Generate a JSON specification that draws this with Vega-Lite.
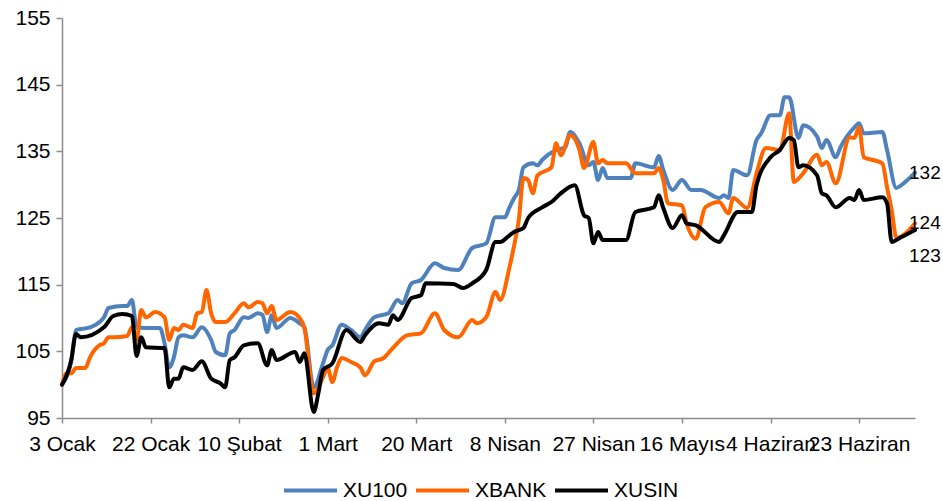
{
  "$schema": "https://vega.github.io/schema/vega-lite/v6.json",
  "width": 853,
  "height": 400,
  "autosize": {"type": "none"},
  "padding": {"left": 62, "top": 18, "right": 28, "bottom": 83},
  "background": "white",
  "config": {
    "view": {"stroke": null},
    "font": "Liberation Sans",
    "axis": {"labelFont": "Liberation Sans", "labelColor": "#000000", "domainColor": "#8c8c8c", "tickColor": "#8c8c8c", "domainWidth": 1.5, "tickWidth": 1.5, "grid": false}
  },
  "datasets": {
    "series": [
      {"d":"2011-01-03","s":"XU100","v":100},{"d":"2011-01-05","s":"XU100","v":103.7},{"d":"2011-01-06","s":"XU100","v":108.2},{"d":"2011-01-09","s":"XU100","v":108.6},{"d":"2011-01-12","s":"XU100","v":110.1},{"d":"2011-01-13","s":"XU100","v":111.5},{"d":"2011-01-16","s":"XU100","v":111.8},{"d":"2011-01-17","s":"XU100","v":111.8},{"d":"2011-01-18","s":"XU100","v":112.7},{"d":"2011-01-19","s":"XU100","v":108.6},{"d":"2011-01-21","s":"XU100","v":108.5},{"d":"2011-01-24","s":"XU100","v":108.5},{"d":"2011-01-25","s":"XU100","v":106.2},{"d":"2011-01-26","s":"XU100","v":102.6},{"d":"2011-01-27","s":"XU100","v":104.1},{"d":"2011-01-28","s":"XU100","v":107.1},{"d":"2011-01-29","s":"XU100","v":107.4},{"d":"2011-01-31","s":"XU100","v":107.1},{"d":"2011-02-02","s":"XU100","v":108.6},{"d":"2011-02-04","s":"XU100","v":106.7},{"d":"2011-02-05","s":"XU100","v":104.9},{"d":"2011-02-07","s":"XU100","v":104.4},{"d":"2011-02-08","s":"XU100","v":107.7},{"d":"2011-02-09","s":"XU100","v":108.2},{"d":"2011-02-11","s":"XU100","v":110.1},{"d":"2011-02-12","s":"XU100","v":110.0},{"d":"2011-02-14","s":"XU100","v":110.7},{"d":"2011-02-15","s":"XU100","v":110.5},{"d":"2011-02-16","s":"XU100","v":107.9},{"d":"2011-02-17","s":"XU100","v":110.4},{"d":"2011-02-18","s":"XU100","v":108.5},{"d":"2011-02-21","s":"XU100","v":110.0},{"d":"2011-02-23","s":"XU100","v":109.2},{"d":"2011-02-24","s":"XU100","v":108.6},{"d":"2011-02-26","s":"XU100","v":99.6},{"d":"2011-02-28","s":"XU100","v":103.2},{"d":"2011-03-01","s":"XU100","v":105.2},{"d":"2011-03-02","s":"XU100","v":105.9},{"d":"2011-03-04","s":"XU100","v":109.0},{"d":"2011-03-06","s":"XU100","v":108.2},{"d":"2011-03-08","s":"XU100","v":107.1},{"d":"2011-03-09","s":"XU100","v":108.2},{"d":"2011-03-11","s":"XU100","v":110.1},{"d":"2011-03-14","s":"XU100","v":110.7},{"d":"2011-03-16","s":"XU100","v":112.7},{"d":"2011-03-17","s":"XU100","v":112.2},{"d":"2011-03-19","s":"XU100","v":115.2},{"d":"2011-03-21","s":"XU100","v":115.7},{"d":"2011-03-24","s":"XU100","v":118.2},{"d":"2011-03-26","s":"XU100","v":117.5},{"d":"2011-03-29","s":"XU100","v":117.2},{"d":"2011-04-01","s":"XU100","v":120.5},{"d":"2011-04-04","s":"XU100","v":121.2},{"d":"2011-04-06","s":"XU100","v":125.1},{"d":"2011-04-08","s":"XU100","v":125.1},{"d":"2011-04-09","s":"XU100","v":126.6},{"d":"2011-04-10","s":"XU100","v":128.0},{"d":"2011-04-11","s":"XU100","v":129.2},{"d":"2011-04-12","s":"XU100","v":132.6},{"d":"2011-04-14","s":"XU100","v":133.2},{"d":"2011-04-15","s":"XU100","v":132.9},{"d":"2011-04-16","s":"XU100","v":133.7},{"d":"2011-04-19","s":"XU100","v":135.2},{"d":"2011-04-21","s":"XU100","v":135.6},{"d":"2011-04-22","s":"XU100","v":137.9},{"d":"2011-04-24","s":"XU100","v":136.2},{"d":"2011-04-26","s":"XU100","v":132.9},{"d":"2011-04-27","s":"XU100","v":133.4},{"d":"2011-04-28","s":"XU100","v":130.7},{"d":"2011-04-29","s":"XU100","v":132.5},{"d":"2011-04-30","s":"XU100","v":131.0},{"d":"2011-05-05","s":"XU100","v":131.0},{"d":"2011-05-06","s":"XU100","v":133.2},{"d":"2011-05-10","s":"XU100","v":132.6},{"d":"2011-05-11","s":"XU100","v":134.3},{"d":"2011-05-12","s":"XU100","v":132.2},{"d":"2011-05-14","s":"XU100","v":129.2},{"d":"2011-05-16","s":"XU100","v":130.7},{"d":"2011-05-18","s":"XU100","v":129.2},{"d":"2011-05-20","s":"XU100","v":129.2},{"d":"2011-05-24","s":"XU100","v":128.0},{"d":"2011-05-25","s":"XU100","v":128.4},{"d":"2011-05-26","s":"XU100","v":128.0},{"d":"2011-05-27","s":"XU100","v":132.2},{"d":"2011-05-30","s":"XU100","v":131.4},{"d":"2011-06-01","s":"XU100","v":136.7},{"d":"2011-06-02","s":"XU100","v":137.7},{"d":"2011-06-04","s":"XU100","v":140.4},{"d":"2011-06-06","s":"XU100","v":140.4},{"d":"2011-06-07","s":"XU100","v":143.1},{"d":"2011-06-08","s":"XU100","v":143.1},{"d":"2011-06-10","s":"XU100","v":137.0},{"d":"2011-06-11","s":"XU100","v":138.9},{"d":"2011-06-14","s":"XU100","v":137.2},{"d":"2011-06-15","s":"XU100","v":135.5},{"d":"2011-06-16","s":"XU100","v":136.7},{"d":"2011-06-18","s":"XU100","v":134.1},{"d":"2011-06-19","s":"XU100","v":135.6},{"d":"2011-06-22","s":"XU100","v":138.6},{"d":"2011-06-23","s":"XU100","v":139.2},{"d":"2011-06-24","s":"XU100","v":137.7},{"d":"2011-06-28","s":"XU100","v":137.9},{"d":"2011-06-29","s":"XU100","v":135.2},{"d":"2011-07-01","s":"XU100","v":129.5},{"d":"2011-07-02","s":"XU100","v":129.9},{"d":"2011-07-05","s":"XU100","v":131.8},
      {"d":"2011-01-03","s":"XBANK","v":100},{"d":"2011-01-04","s":"XBANK","v":101.7},{"d":"2011-01-05","s":"XBANK","v":101.7},{"d":"2011-01-06","s":"XBANK","v":102.5},{"d":"2011-01-08","s":"XBANK","v":102.5},{"d":"2011-01-09","s":"XBANK","v":104.1},{"d":"2011-01-11","s":"XBANK","v":105.9},{"d":"2011-01-12","s":"XBANK","v":106.2},{"d":"2011-01-13","s":"XBANK","v":107.1},{"d":"2011-01-14","s":"XBANK","v":107.1},{"d":"2011-01-17","s":"XBANK","v":107.3},{"d":"2011-01-18","s":"XBANK","v":108.6},{"d":"2011-01-19","s":"XBANK","v":106.7},{"d":"2011-01-20","s":"XBANK","v":111.2},{"d":"2011-01-21","s":"XBANK","v":110.1},{"d":"2011-01-23","s":"XBANK","v":110.9},{"d":"2011-01-25","s":"XBANK","v":110.1},{"d":"2011-01-26","s":"XBANK","v":106.7},{"d":"2011-01-27","s":"XBANK","v":108.5},{"d":"2011-01-28","s":"XBANK","v":108.2},{"d":"2011-01-29","s":"XBANK","v":109.0},{"d":"2011-01-31","s":"XBANK","v":108.5},{"d":"2011-02-01","s":"XBANK","v":110.7},{"d":"2011-02-02","s":"XBANK","v":110.9},{"d":"2011-02-03","s":"XBANK","v":114.2},{"d":"2011-02-04","s":"XBANK","v":110.7},{"d":"2011-02-05","s":"XBANK","v":109.4},{"d":"2011-02-07","s":"XBANK","v":109.4},{"d":"2011-02-09","s":"XBANK","v":110.7},{"d":"2011-02-11","s":"XBANK","v":112.2},{"d":"2011-02-12","s":"XBANK","v":111.6},{"d":"2011-02-14","s":"XBANK","v":112.4},{"d":"2011-02-15","s":"XBANK","v":112.2},{"d":"2011-02-16","s":"XBANK","v":110.7},{"d":"2011-02-17","s":"XBANK","v":111.8},{"d":"2011-02-18","s":"XBANK","v":109.7},{"d":"2011-02-21","s":"XBANK","v":110.9},{"d":"2011-02-23","s":"XBANK","v":110.0},{"d":"2011-02-24","s":"XBANK","v":108.5},{"d":"2011-02-26","s":"XBANK","v":98.7},{"d":"2011-02-28","s":"XBANK","v":101.1},{"d":"2011-03-01","s":"XBANK","v":102.5},{"d":"2011-03-02","s":"XBANK","v":100.4},{"d":"2011-03-03","s":"XBANK","v":102.6},{"d":"2011-03-04","s":"XBANK","v":104.0},{"d":"2011-03-06","s":"XBANK","v":103.4},{"d":"2011-03-08","s":"XBANK","v":102.6},{"d":"2011-03-09","s":"XBANK","v":101.4},{"d":"2011-03-11","s":"XBANK","v":103.5},{"d":"2011-03-13","s":"XBANK","v":104.0},{"d":"2011-03-15","s":"XBANK","v":105.5},{"d":"2011-03-18","s":"XBANK","v":107.4},{"d":"2011-03-21","s":"XBANK","v":107.7},{"d":"2011-03-24","s":"XBANK","v":110.7},{"d":"2011-03-26","s":"XBANK","v":108.2},{"d":"2011-03-29","s":"XBANK","v":107.1},{"d":"2011-04-01","s":"XBANK","v":109.7},{"d":"2011-04-02","s":"XBANK","v":109.2},{"d":"2011-04-04","s":"XBANK","v":110.1},{"d":"2011-04-06","s":"XBANK","v":113.9},{"d":"2011-04-07","s":"XBANK","v":112.7},{"d":"2011-04-09","s":"XBANK","v":117.6},{"d":"2011-04-10","s":"XBANK","v":120.9},{"d":"2011-04-11","s":"XBANK","v":124.7},{"d":"2011-04-12","s":"XBANK","v":131.0},{"d":"2011-04-13","s":"XBANK","v":130.7},{"d":"2011-04-14","s":"XBANK","v":128.7},{"d":"2011-04-15","s":"XBANK","v":131.4},{"d":"2011-04-18","s":"XBANK","v":132.6},{"d":"2011-04-19","s":"XBANK","v":136.2},{"d":"2011-04-20","s":"XBANK","v":134.4},{"d":"2011-04-22","s":"XBANK","v":137.4},{"d":"2011-04-24","s":"XBANK","v":135.2},{"d":"2011-04-25","s":"XBANK","v":132.5},{"d":"2011-04-27","s":"XBANK","v":136.4},{"d":"2011-04-28","s":"XBANK","v":133.2},{"d":"2011-04-29","s":"XBANK","v":133.7},{"d":"2011-04-30","s":"XBANK","v":133.2},{"d":"2011-05-04","s":"XBANK","v":133.2},{"d":"2011-05-06","s":"XBANK","v":131.7},{"d":"2011-05-10","s":"XBANK","v":131.7},{"d":"2011-05-11","s":"XBANK","v":132.5},{"d":"2011-05-12","s":"XBANK","v":130.7},{"d":"2011-05-13","s":"XBANK","v":127.2},{"d":"2011-05-16","s":"XBANK","v":126.9},{"d":"2011-05-17","s":"XBANK","v":124.2},{"d":"2011-05-19","s":"XBANK","v":121.9},{"d":"2011-05-21","s":"XBANK","v":126.6},{"d":"2011-05-24","s":"XBANK","v":127.4},{"d":"2011-05-26","s":"XBANK","v":125.7},{"d":"2011-05-27","s":"XBANK","v":128.0},{"d":"2011-05-30","s":"XBANK","v":126.5},{"d":"2011-06-01","s":"XBANK","v":131.7},{"d":"2011-06-03","s":"XBANK","v":135.5},{"d":"2011-06-06","s":"XBANK","v":135.2},{"d":"2011-06-08","s":"XBANK","v":140.7},{"d":"2011-06-09","s":"XBANK","v":130.4},{"d":"2011-06-11","s":"XBANK","v":131.7},{"d":"2011-06-14","s":"XBANK","v":134.5},{"d":"2011-06-15","s":"XBANK","v":132.9},{"d":"2011-06-16","s":"XBANK","v":133.4},{"d":"2011-06-18","s":"XBANK","v":130.2},{"d":"2011-06-21","s":"XBANK","v":137.1},{"d":"2011-06-22","s":"XBANK","v":137.0},{"d":"2011-06-23","s":"XBANK","v":138.6},{"d":"2011-06-24","s":"XBANK","v":134.1},{"d":"2011-06-26","s":"XBANK","v":133.7},{"d":"2011-06-28","s":"XBANK","v":133.2},{"d":"2011-06-29","s":"XBANK","v":129.6},{"d":"2011-06-30","s":"XBANK","v":126.2},{"d":"2011-07-01","s":"XBANK","v":122.0},{"d":"2011-07-03","s":"XBANK","v":122.7},{"d":"2011-07-05","s":"XBANK","v":124.2},
      {"d":"2011-01-03","s":"XUSIN","v":100},{"d":"2011-01-05","s":"XUSIN","v":103.7},{"d":"2011-01-06","s":"XUSIN","v":107.6},{"d":"2011-01-07","s":"XUSIN","v":107.1},{"d":"2011-01-12","s":"XUSIN","v":108.6},{"d":"2011-01-14","s":"XUSIN","v":110.3},{"d":"2011-01-16","s":"XUSIN","v":110.6},{"d":"2011-01-18","s":"XUSIN","v":110.3},{"d":"2011-01-19","s":"XUSIN","v":104.3},{"d":"2011-01-20","s":"XUSIN","v":107.1},{"d":"2011-01-21","s":"XUSIN","v":105.6},{"d":"2011-01-25","s":"XUSIN","v":105.5},{"d":"2011-01-26","s":"XUSIN","v":99.6},{"d":"2011-01-27","s":"XUSIN","v":100.9},{"d":"2011-01-28","s":"XUSIN","v":100.9},{"d":"2011-01-29","s":"XUSIN","v":102.6},{"d":"2011-01-31","s":"XUSIN","v":102.2},{"d":"2011-02-02","s":"XUSIN","v":103.5},{"d":"2011-02-04","s":"XUSIN","v":100.9},{"d":"2011-02-06","s":"XUSIN","v":100.2},{"d":"2011-02-07","s":"XUSIN","v":99.6},{"d":"2011-02-08","s":"XUSIN","v":103.7},{"d":"2011-02-09","s":"XUSIN","v":104.1},{"d":"2011-02-11","s":"XUSIN","v":105.9},{"d":"2011-02-14","s":"XUSIN","v":106.2},{"d":"2011-02-16","s":"XUSIN","v":102.9},{"d":"2011-02-17","s":"XUSIN","v":105.2},{"d":"2011-02-18","s":"XUSIN","v":103.7},{"d":"2011-02-22","s":"XUSIN","v":104.9},{"d":"2011-02-23","s":"XUSIN","v":103.4},{"d":"2011-02-24","s":"XUSIN","v":104.7},{"d":"2011-02-26","s":"XUSIN","v":95.9},{"d":"2011-02-27","s":"XUSIN","v":98.7},{"d":"2011-02-28","s":"XUSIN","v":102.2},{"d":"2011-03-02","s":"XUSIN","v":103.2},{"d":"2011-03-05","s":"XUSIN","v":108.2},{"d":"2011-03-08","s":"XUSIN","v":106.4},{"d":"2011-03-09","s":"XUSIN","v":107.4},{"d":"2011-03-12","s":"XUSIN","v":109.2},{"d":"2011-03-14","s":"XUSIN","v":109.0},{"d":"2011-03-15","s":"XUSIN","v":110.4},{"d":"2011-03-16","s":"XUSIN","v":109.7},{"d":"2011-03-19","s":"XUSIN","v":113.0},{"d":"2011-03-21","s":"XUSIN","v":113.4},{"d":"2011-03-22","s":"XUSIN","v":115.2},{"d":"2011-03-28","s":"XUSIN","v":115.1},{"d":"2011-03-30","s":"XUSIN","v":114.5},{"d":"2011-04-01","s":"XUSIN","v":115.2},{"d":"2011-04-04","s":"XUSIN","v":117.2},{"d":"2011-04-06","s":"XUSIN","v":121.4},{"d":"2011-04-07","s":"XUSIN","v":121.4},{"d":"2011-04-09","s":"XUSIN","v":122.4},{"d":"2011-04-10","s":"XUSIN","v":122.9},{"d":"2011-04-12","s":"XUSIN","v":123.5},{"d":"2011-04-13","s":"XUSIN","v":125.0},{"d":"2011-04-16","s":"XUSIN","v":126.6},{"d":"2011-04-18","s":"XUSIN","v":127.4},{"d":"2011-04-20","s":"XUSIN","v":128.7},{"d":"2011-04-23","s":"XUSIN","v":129.9},{"d":"2011-04-25","s":"XUSIN","v":125.4},{"d":"2011-04-26","s":"XUSIN","v":125.0},{"d":"2011-04-27","s":"XUSIN","v":121.2},{"d":"2011-04-28","s":"XUSIN","v":122.9},{"d":"2011-04-29","s":"XUSIN","v":121.7},{"d":"2011-05-04","s":"XUSIN","v":121.7},{"d":"2011-05-06","s":"XUSIN","v":125.9},{"d":"2011-05-10","s":"XUSIN","v":126.6},{"d":"2011-05-11","s":"XUSIN","v":128.4},{"d":"2011-05-12","s":"XUSIN","v":126.5},{"d":"2011-05-14","s":"XUSIN","v":123.5},{"d":"2011-05-16","s":"XUSIN","v":125.4},{"d":"2011-05-17","s":"XUSIN","v":124.2},{"d":"2011-05-19","s":"XUSIN","v":123.9},{"d":"2011-05-24","s":"XUSIN","v":121.4},{"d":"2011-05-25","s":"XUSIN","v":122.4},{"d":"2011-05-28","s":"XUSIN","v":125.9},{"d":"2011-05-31","s":"XUSIN","v":125.9},{"d":"2011-06-01","s":"XUSIN","v":129.9},{"d":"2011-06-04","s":"XUSIN","v":134.1},{"d":"2011-06-06","s":"XUSIN","v":135.2},{"d":"2011-06-08","s":"XUSIN","v":137.0},{"d":"2011-06-09","s":"XUSIN","v":136.7},{"d":"2011-06-10","s":"XUSIN","v":132.6},{"d":"2011-06-11","s":"XUSIN","v":132.9},{"d":"2011-06-14","s":"XUSIN","v":131.4},{"d":"2011-06-15","s":"XUSIN","v":128.7},{"d":"2011-06-16","s":"XUSIN","v":128.4},{"d":"2011-06-18","s":"XUSIN","v":126.6},{"d":"2011-06-21","s":"XUSIN","v":128.0},{"d":"2011-06-22","s":"XUSIN","v":127.7},{"d":"2011-06-23","s":"XUSIN","v":129.2},{"d":"2011-06-24","s":"XUSIN","v":127.7},{"d":"2011-06-28","s":"XUSIN","v":128.1},{"d":"2011-06-29","s":"XUSIN","v":127.2},{"d":"2011-06-30","s":"XUSIN","v":121.4},{"d":"2011-07-02","s":"XUSIN","v":122.1},{"d":"2011-07-05","s":"XUSIN","v":123.2}
    ]
  },
  "data": {"name": "series"},
  "encoding": {
    "x": {
      "field": "d", "type": "temporal",
      "scale": {"type": "utc", "domain": [{"year": 2011, "month": 1, "date": 3, "utc": true}, {"year": 2011, "month": 7, "date": 5, "utc": true}]},
      "axis": {
        "title": null,
        "values": [
          {"year": 2011, "month": 1, "date": 3, "utc": true},
          {"year": 2011, "month": 1, "date": 22, "utc": true},
          {"year": 2011, "month": 2, "date": 10, "utc": true},
          {"year": 2011, "month": 3, "date": 1, "utc": true},
          {"year": 2011, "month": 3, "date": 20, "utc": true},
          {"year": 2011, "month": 4, "date": 8, "utc": true},
          {"year": 2011, "month": 4, "date": 27, "utc": true},
          {"year": 2011, "month": 5, "date": 16, "utc": true},
          {"year": 2011, "month": 6, "date": 4, "utc": true},
          {"year": 2011, "month": 6, "date": 23, "utc": true}
        ],
        "labelExpr": "utcdate(datum.value) + ' ' + ['Ocak','Şubat','Mart','Nisan','Mayıs','Haziran','Temmuz'][utcmonth(datum.value)]",
        "labelFontSize": 21,
        "labelOverlap": false,
        "labelBound": false,
        "labelFlush": false,
        "tickSize": 5,
        "labelPadding": 10
      }
    },
    "y": {
      "field": "v", "type": "quantitative",
      "scale": {"domain": [95, 155], "nice": false, "zero": false},
      "axis": {"title": null, "values": [95, 105, 115, 125, 135, 145, 155], "labelFontSize": 21, "tickSize": 6, "labelPadding": 6}
    }
  },
  "layer": [
    {
      "mark": {"type": "line", "strokeWidth": 4, "interpolate": "monotone", "strokeJoin": "round", "strokeCap": "round"},
      "encoding": {
        "color": {
          "field": "s", "type": "nominal",
          "scale": {"domain": ["XU100", "XBANK", "XUSIN"], "range": ["#4F81BD", "#FF6600", "#000000"]},
          "legend": {
            "title": null, "orient": "none", "direction": "horizontal",
            "legendX": 220, "legendY": 444, "gridAlign": "none",
            "symbolType": "stroke", "symbolSize": 2809, "symbolStrokeWidth": 4,
            "labelFontSize": 21, "labelFont": "Liberation Sans", "labelColor": "#000000",
            "labelOffset": 4, "columnPadding": 0
          }
        }
      }
    },
    {
      "transform": [{"filter": "utcmonth(datum.d) == 6 && utcdate(datum.d) == 5 && datum.s != 'XUSIN'"}],
      "mark": {"type": "text", "align": "left", "baseline": "middle", "dx": -6, "fontSize": 19, "font": "Liberation Sans", "color": "#000000"},
      "encoding": {"text": {"field": "v", "type": "quantitative", "format": ".0f"}}
    },
    {
      "transform": [{"filter": "utcmonth(datum.d) == 6 && utcdate(datum.d) == 5 && datum.s == 'XUSIN'"}],
      "mark": {"type": "text", "align": "left", "baseline": "middle", "dx": -6, "dy": 26, "fontSize": 19, "font": "Liberation Sans", "color": "#000000"},
      "encoding": {"text": {"field": "v", "type": "quantitative", "format": ".0f"}}
    }
  ]
}
